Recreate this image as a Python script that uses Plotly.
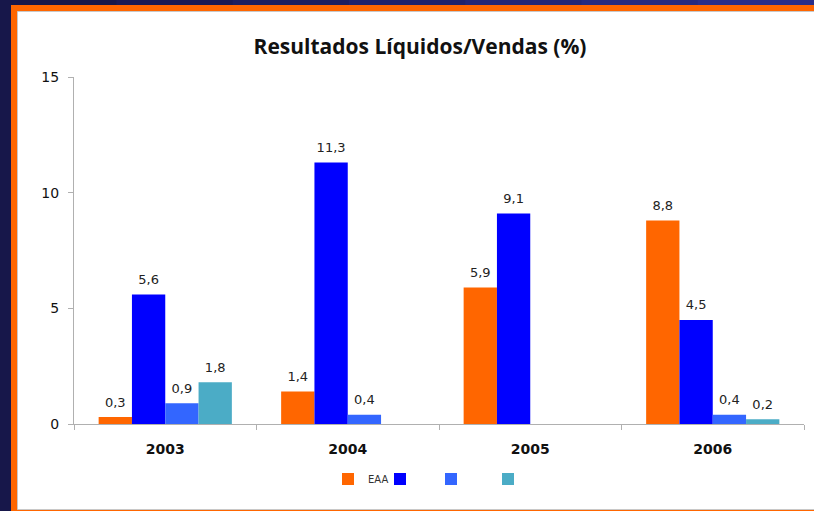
import plotly.graph_objects as go

# data
years = ["2003", "2004", "2005", "2006"]
eaa = [0.3, 1.4, 5.9, 8.8]
serie_2 = [5.6, 11.3, 9.1, 4.5]
serie_3 = [0.9, 0.4, None, 0.4]
serie_4 = [1.8, None, None, 0.2]

series = [
    ("EAA", eaa, "#ff6600", "legend"),
    ("", serie_2, "#0000ff", "legend2"),
    ("", serie_3, "#3366ff", "legend3"),
    ("", serie_4, "#4bacc6", "legend4"),
]

# plot area in pixels (814 x 511 page)
L, R, T, B = 74, 804, 77, 424


def px(x):
    return (x - L) / (R - L)


def py(y):
    return (B - y) / (B - T)


fig = go.Figure()

for i, (name, vals, color, leg) in enumerate(series):
    fig.add_trace(
        go.Bar(
            x=years,
            y=vals,
            name=name,
            marker=dict(color=color, line=dict(width=0)),
            offsetgroup=str(i),
            legend=leg,
            showlegend=True,
        )
    )

# value labels, grouped the same way as the bars
for i, (name, vals, color, leg) in enumerate(series):
    fig.add_trace(
        go.Scatter(
            x=years,
            y=vals,
            mode="markers+text",
            marker=dict(size=10, opacity=0),
            texttemplate="%{y:.1f}",
            textposition="top center",
            textfont=dict(family="DejaVu Sans", size=13, color="#222222"),
            offsetgroup=str(i),
            cliponaxis=False,
            showlegend=False,
            hoverinfo="skip",
        )
    )

# frame: navy background, orange border, white panel
shapes = []
top_cols = ["#17174a", "#1a1a55", "#1d1e60", "#20226b", "#232676", "#262a80", "#292e8a"]
step = 814 / len(top_cols)
for i, c in enumerate(top_cols):
    shapes.append(dict(type="rect", xref="paper", yref="paper", layer="below",
                       x0=px(i * step), x1=px((i + 1) * step + 1), y0=py(-1), y1=py(5),
                       fillcolor=c, line=dict(width=0)))
shapes.append(dict(type="rect", xref="paper", yref="paper", layer="below",
                   x0=px(11), x1=px(815), y0=py(5), y1=py(512),
                   fillcolor="#ff6600", line=dict(width=0)))
shapes.append(dict(type="rect", xref="paper", yref="paper", layer="below",
                   x0=px(17.5), x1=px(818), y0=py(11.5), y1=py(509.5),
                   fillcolor="white", line=dict(color="#c8c8c8", width=1)))

legend_style = dict(
    orientation="h", yanchor="middle", xanchor="left", y=py(479),
    font=dict(family="DejaVu Sans", size=10, color="#333333"),
    bgcolor="rgba(0,0,0,0)", borderwidth=0,
)
symbol_centres = [348, 400, 451, 508]
legends = {}
for (name, vals, color, leg), c in zip(series, symbol_centres):
    legends[leg] = dict(legend_style, x=px(c - 20))

fig.update_layout(
    width=814,
    height=511,
    margin=dict(l=L, r=814 - R, t=T, b=511 - B),
    paper_bgcolor="#17174a",
    plot_bgcolor="rgba(0,0,0,0)",
    separators=",.",
    barmode="group",
    bargap=0.27,
    bargroupgap=0,
    scattermode="group",
    scattergap=0.27,
    shapes=shapes,
    title=dict(
        text="Resultados Líquidos/Vendas (%)",
        x=420 / 814, xanchor="center", xref="container",
        y=1 - 47 / 511, yanchor="middle", yref="container",
        font=dict(family="Open Sans", size=21, color="#111111", weight="bold"),
    ),
    xaxis=dict(
        showline=True, linecolor="#b0b0b0", linewidth=1,
        ticks="outside", tickson="boundaries", ticklen=5, tickcolor="#b0b0b0",
        tickfont=dict(family="DejaVu Sans", size=14, color="#111111", weight="bold"),
        ticklabelstandoff=12,
        showgrid=False, zeroline=False,
    ),
    yaxis=dict(
        range=[0, 15], dtick=5, tick0=0,
        showline=True, linecolor="#b0b0b0", linewidth=1,
        ticks="outside", ticklen=5, tickcolor="#b0b0b0",
        tickfont=dict(family="DejaVu Sans", size=14, color="#111111"),
        ticklabelstandoff=6,
        showgrid=False, zeroline=False,
    ),
    **legends,
)

fig.write_html(
    "out.html",
    config={"displayModeBar": False},
    post_script="document.body.style.margin='0';document.body.style.overflow='hidden';",
)
